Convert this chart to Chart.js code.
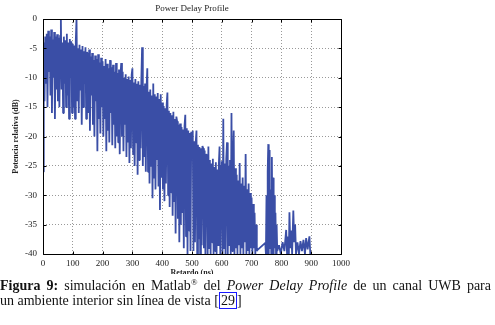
<!DOCTYPE html>
<html>
<head>
<meta charset="utf-8">
<script src="https://cdn.jsdelivr.net/npm/chart.js@4.4.0/dist/chart.umd.min.js"></script>
<style>
  html, body { margin: 0; padding: 0; background: #fff; }
  #wrap { position: relative; width: 495px; height: 325px; overflow: hidden; }
  #chartBox { position: absolute; left: 0; top: 0; width: 495px; height: 280px; }
  #caption {
    position: absolute; left: 0; top: 274px; width: 491px; padding-top: 4px;
    background: #fff; color: #111;
    font-family: 'Liberation Serif', serif; font-size: 14px; line-height: 15px;
  }
  #caption .l1 { text-align: justify; text-align-last: justify; }
  #caption sup { font-size: 9px; line-height: 0; vertical-align: 5px; }
  #caption .ref { border: 1px solid #1a1aff; padding: 0 1px; }
</style>
</head>
<body>
<div id="wrap">
  <div id="chartBox"><canvas id="pdpChart"></canvas></div>
  <div id="caption">
    <div class="l1"><b>Figura 9:</b> simulación en Matlab<sup>®</sup> del <i>Power Delay Profile</i> de un canal UWB para</div>
    <div>un ambiente interior sin línea de vista [<span class="ref">29</span>]</div>
  </div>
</div>
<script>
// axis ticks
const xTicks = [0, 100, 200, 300, 400, 500, 600, 700, 800, 900, 1000];
const yTicks = [0, -5, -10, -15, -20, -25, -30, -35, -40];

// dense part of the profile, one sample every 2.5 ns starting at 0 ns
const denseStartNs = 0;
const denseStepNs = 2.5;
const densePowerDb = [
  -26, -4, -14, -3, -11, -2.5, -15, -2, -9, -3, -13, -1.8, -16, -3.5, -10, -2.2, -17, -3, -12, -2.6,
  -14, -3.2, -15, -2.8, 0, -12, -4, -16, -3, -11, -3.6, -15, -2.5, -13, -4, -17, -3.4, -10, -3.8, -16,
  -4.2, -15, -4.5, -17, -3.8, 0, -14, -5, -16, -4.4, -12, -5.2, -18, -4.6, -15, -5.5, -11, -4.8, -17, -5.6,
  -6, -16, -5.2, -19, -6.4, -13, -5.8, -18, -7, -20, -6.2, -14, -6.8, -22.5, -6, -17, -7.4, -19.5, -6.6, -15,
  -7.2, -20, -8, -17, -6.8, -22.5, -7.6, -19, -8.4, -21, -7, -16, -8.2, -21.5, -7.8, -18, -9, -22, -7.5, -20,
  -9.2, -21, -8.6, -23, -9.6, -7.5, -20, -9, -22.5, -10, -18, -9.4, -23.5, -10.2, -21, -9.8, -24.5, -10.4, -22, -9.5,
  -8.4, -23, -10.8, -25, -10.2, -21, -11, -26.5, -10.6, -24, -11.2, -22, -10.4, -4.8, -25, -11.4, -23.5, -11, -26, -11.8,
  -8.4, -26, -12.4, -28, -12, -25, -13, -30.5, -11, -27, -12.8, -29, -13.2, -24, -12.6, -28.5, -13.6, -32.5, -12.8, -27,
  -14.2, -29, -14.8, -31, -15.2, -28, -14.6, -12.5, -30, -15.6, -32, -16, -29.5, -16.4, -33.5, -15.8, -31, -17, -36.5, -16.6,
  -17.4, -34, -18, -38, -17.8, -35, -18.4, -33, -18.8, -39, -18.2, -16.3, -37, -18.6, -40, -19, -36, -19.4, -39.5, -19.2,
  -20.4, -19, -39.5, -20.8, -38, -21, -19, -40, -21.4, -37.5, -21.8, -40, -22, -38.5, -21.6, -22, -39, -22.4, -40, -23,
  -23.4, -40, -21.7, -39, -24, -40, -24.6, -38, -23.8, -40, -25.2, -39.5, -24.4, -40, -25.6, -38.5, -24.8, -21.7, -40, -25,
  -24.2, -40, -17, -39, -24.6, -40, -23.8, -21, -40, -25, -38.5, -24, -40, -16, -39.5, -24.4, -19, -40, -25.4, -39,
  -26.5, -40, -27.5, -38.5, -24.5, -40, -28, -39, -27, -40, -28.4, -38, -23, -40, -29, -39.5, -28, -40, -29.6, -39,
  -30.4, -40, -31.5, -39, -33, -40, -35, -39.5
];

// sparse tail after 720 ns (irregular sample times)
const tailDelayNs = [720, 746, 748, 750, 752, 754, 756, 757.5, 759, 760.5, 762, 764, 766, 768, 770, 772, 774, 776, 778, 780,
  782, 784, 786, 792, 798, 804, 810, 816, 819, 822, 825, 827, 830, 833, 836, 840, 843, 846, 849, 854,
  859, 864, 869, 874, 879, 883, 888, 894, 897];
const tailPowerDb = [-39.3, -38.1, -40, -30, -40, -26, -21.3, -40, -27, -22.3, -39, -29, -40, -23.5, -38, -27, -40, -30, -39, -33,
  -40, -35, -39.5, -38.5, -40, -38, -39.5, -35.9, -40, -37, -40, -32.9, -39, -36, -40, -32.6, -38, -35, -40, -38,
  -40, -37.8, -39.5, -37.6, -40, -37.3, -39.2, -37, -40];

const points = densePowerDb.map((v, i) => ({ x: denseStartNs + i * denseStepNs, y: v }))
  .concat(tailDelayNs.map((t, i) => ({ x: t, y: tailPowerDb[i] })));

Chart.defaults.font.family = "'Liberation Serif', serif";
Chart.defaults.color = '#222';

// matlab style box, inward ticks and the title over the plot area
const framePlugin = {
  id: 'frame',
  afterDraw(chart) {
    const { ctx, chartArea: a, scales: { x, y } } = chart;
    const l = Math.round(a.left) + 0.5, r = Math.round(a.right) + 0.5;
    const t = Math.round(a.top) + 0.5, b = Math.round(a.bottom) + 0.5;
    ctx.save();
    ctx.strokeStyle = '#000';
    ctx.lineWidth = 1;
    ctx.beginPath();
    ctx.rect(l, t, r - l, b - t);
    xTicks.forEach(v => {
      const px = Math.round(x.getPixelForValue(v)) + 0.5;
      ctx.moveTo(px, b); ctx.lineTo(px, b - 3);
      ctx.moveTo(px, t); ctx.lineTo(px, t + 3);
    });
    yTicks.forEach(v => {
      const py = Math.round(y.getPixelForValue(v)) + 0.5;
      ctx.moveTo(l, py); ctx.lineTo(l + 3, py);
      ctx.moveTo(r, py); ctx.lineTo(r - 3, py);
    });
    ctx.stroke();
    ctx.fillStyle = '#222';
    ctx.font = "9px 'Liberation Serif'";
    ctx.textAlign = 'center';
    ctx.textBaseline = 'middle';
    ctx.fillText('Power Delay Profile', (a.left + a.right) / 2, 9);
    ctx.restore();
  }
};

const ctx = document.getElementById('pdpChart').getContext('2d');
new Chart(ctx, {
  type: 'line',
  data: {
    datasets: [{
      data: points,
      borderColor: '#3a4ea6',
      borderWidth: 1.8,
      borderJoinStyle: 'bevel',
      pointRadius: 0,
      tension: 0,
      fill: false
    }]
  },
  options: {
    responsive: true,
    maintainAspectRatio: false,
    animation: false,
    layout: { padding: { left: 0, right: 154, top: 19, bottom: 0 } },
    plugins: { legend: { display: false }, tooltip: { enabled: false } },
    scales: {
      x: {
        type: 'linear',
        min: 0, max: 1000,
        afterBuildTicks: s => { s.ticks = xTicks.map(v => ({ value: v })); },
        afterFit: s => { s.height = 26; },
        ticks: { font: { size: 9 }, padding: 4, maxRotation: 0, autoSkip: false, callback: v => String(v) },
        grid: { color: 'rgba(0,0,0,0.4)', drawTicks: false },
        border: { display: false, dash: [1, 2] },
        title: { display: true, text: 'Retardo (ns)', font: { size: 8, weight: 'bold' }, padding: { top: 0, bottom: 2 } }
      },
      y: {
        min: -40, max: 0,
        afterBuildTicks: s => { s.ticks = yTicks.map(v => ({ value: v })); },
        afterFit: s => { s.width = 43; },
        ticks: { font: { size: 9 }, padding: 6, autoSkip: false },
        grid: { color: 'rgba(0,0,0,0.4)', drawTicks: false },
        border: { display: false, dash: [1, 2] },
        title: { display: true, text: 'Potencia relativa (dB)', font: { size: 8, weight: 'bold' }, padding: { top: 11, bottom: 0 } }
      }
    }
  },
  plugins: [framePlugin]
});
</script>
</body>
</html>
